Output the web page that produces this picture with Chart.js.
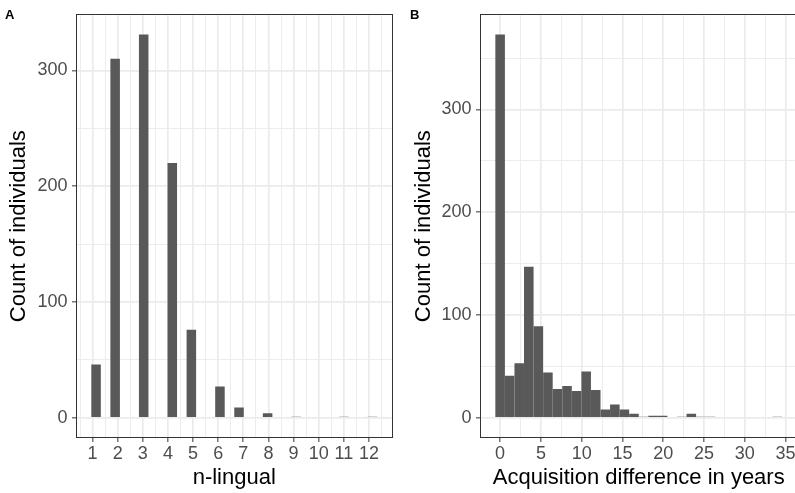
<!DOCTYPE html>
<html>
<head>
<meta charset="utf-8">
<script src="https://cdn.jsdelivr.net/npm/chart.js@4/dist/chart.umd.min.js"></script>
<style>
  html, body { margin: 0; padding: 0; background: #fff; overflow: hidden; }
  canvas { position: absolute; top: 0; }
  #chartA { left: 0; }
  #chartB { left: 400px; }
  .tag {
    position: absolute;
    top: 8px;
    font: bold 13px "Liberation Sans", Arial, Helvetica, sans-serif;
    line-height: 13px;
    color: #000;
  }
</style>
</head>
<body>
<canvas id="chartA" width="400" height="493"></canvas>
<canvas id="chartB" width="400" height="493"></canvas>
<div class="tag" style="left:5px">A</div>
<div class="tag" style="left:410px">B</div>
<script>
// panel A: histogram of n-lingual (30 bins, centres + counts)
const nlingualBins = [
  1.138, 1.517, 1.897, 2.276, 2.655, 3.034, 3.414, 3.793, 4.172, 4.552,
  4.931, 5.310, 5.690, 6.069, 6.448, 6.828, 7.207, 7.586, 7.966, 8.345,
  8.724, 9.103, 9.483, 9.862, 10.241, 10.621, 11.000, 11.379, 11.759, 12.138,
];
const nlingualCounts = [
  46, 0, 310, 0, 0, 331, 0, 0, 220, 0,
  76, 0, 0, 27, 0, 9, 0, 0, 4, 0,
  0, 1, 0, 0, 0, 0, 1, 0, 0, 1,
];
const nlingualTicks = [1, 2, 3, 4, 5, 6, 7, 8, 9, 10, 11, 12];
const countTicksA = [0, 100, 200, 300];

// panel B: histogram of acquisition difference (30 bins)
const diffBins = [
  0, 1.172, 2.345, 3.517, 4.690, 5.862, 7.034, 8.207, 9.379, 10.552,
  11.724, 12.897, 14.069, 15.241, 16.414, 17.586, 18.759, 19.931, 21.103, 22.276,
  23.448, 24.621, 25.793, 26.966, 28.138, 29.310, 30.483, 31.655, 32.828, 34.000,
];
const diffCounts = [
  373, 41, 53, 147, 89, 44, 28, 31, 26, 45,
  27, 8, 13, 8, 4, 1, 2, 2, 0, 1,
  4, 1, 1, 0, 0, 0, 0, 0, 0, 1,
];
const diffTicks = [0, 5, 10, 15, 20, 25, 30, 35];
const countTicksB = [0, 100, 200, 300];

const FONT = '"Liberation Sans", Arial, Helvetica, sans-serif';

// majors plus the half-way minor breaks that fall inside the range
function withMinors(majors, range) {
  const half = (majors[1] - majors[0]) / 2;
  const out = [];
  for (let v = majors[0] - 2 * half; v <= majors[majors.length - 1] + 2 * half; v += half) {
    if (v >= range[0] && v <= range[1]) out.push(v);
  }
  return out;
}

function axisOptions(range, majors, title, titlePad, fitSize) {
  const isMajor = c => !c.tick || majors.includes(c.tick.value);
  return {
    type: 'linear',
    min: range[0],
    max: range[1],
    offset: false,
    afterBuildTicks: scale => {
      scale.ticks = withMinors(majors, range).map(v => ({ value: v }));
    },
    afterFit: scale => {
      if (scale.isHorizontal()) scale.height = fitSize;
      else scale.width = fitSize;
    },
    border: { display: false },
    grid: {
      offset: false,
      color: '#EBEBEB',
      lineWidth: c => (isMajor(c) ? 1.7 : 0.9),
      drawTicks: true,
      tickLength: 5,
      tickWidth: 1,
      tickColor: c => (isMajor(c) ? '#333333' : 'rgba(0,0,0,0)'),
    },
    ticks: {
      autoSkip: false,
      maxRotation: 0,
      padding: 4.5,
      color: '#4D4D4D',
      font: { family: FONT, size: 18 },
      callback: v => (majors.includes(v) ? String(v) : ''),
    },
    title: {
      display: true,
      text: title,
      color: '#000000',
      font: { family: FONT, size: 22 },
      padding: titlePad,
    },
  };
}

const panelBorder = {
  id: 'panelBorder',
  afterDraw(chart) {
    const { ctx, chartArea: a } = chart;
    ctx.save();
    ctx.strokeStyle = '#333333';
    ctx.lineWidth = 1;
    ctx.strokeRect(Math.round(a.left) - 0.5, Math.round(a.top) - 0.5,
      Math.round(a.right - a.left) + 1, Math.round(a.bottom - a.top) + 1);
    ctx.restore();
  },
};

function histogram(canvasId, bins, counts, cfg) {
  const xAxis = axisOptions(cfg.xRange, cfg.xTicks, cfg.xTitle, { top: 0, bottom: 2 }, 56);
  xAxis.ticks.padding = 1;
  const yAxis = axisOptions(cfg.yRange, cfg.yTicks, 'Count of individuals', { top: cfg.yTitlePad, bottom: 0 }, cfg.yWidth);

  return new Chart(document.getElementById(canvasId), {
    type: 'bar',
    data: {
      datasets: [
        {
          data: bins.map((x, i) => ({ x: x, y: counts[i] })),
          backgroundColor: '#595959',
          borderWidth: 0,
          inflateAmount: 0,
          barPercentage: 1,
          categoryPercentage: 1,
        },
      ],
    },
    options: {
      responsive: false,
      animation: false,
      events: [],
      layout: { padding: { top: 14, right: cfg.padRight, left: 0, bottom: 0 } },
      plugins: { legend: { display: false }, tooltip: { enabled: false } },
      scales: { x: xAxis, y: yAxis },
    },
    plugins: [panelBorder],
  });
}

histogram('chartA', nlingualBins, nlingualCounts, {
  xRange: [0.379, 12.897],
  yRange: [-16.55, 347.55],
  xTicks: nlingualTicks,
  yTicks: countTicksA,
  xTitle: 'n-lingual',
  yWidth: 77,
  yTitlePad: 6,
  padRight: 8.5,
});

histogram('chartB', diffBins, diffCounts, {
  xRange: [-2.345, 36.345],
  yRange: [-18.65, 391.65],
  xTicks: diffTicks,
  yTicks: countTicksB,
  xTitle: 'Acquisition difference in years',
  yWidth: 81,
  yTitlePad: 11,
  padRight: 3.5,
});
</script>
</body>
</html>
